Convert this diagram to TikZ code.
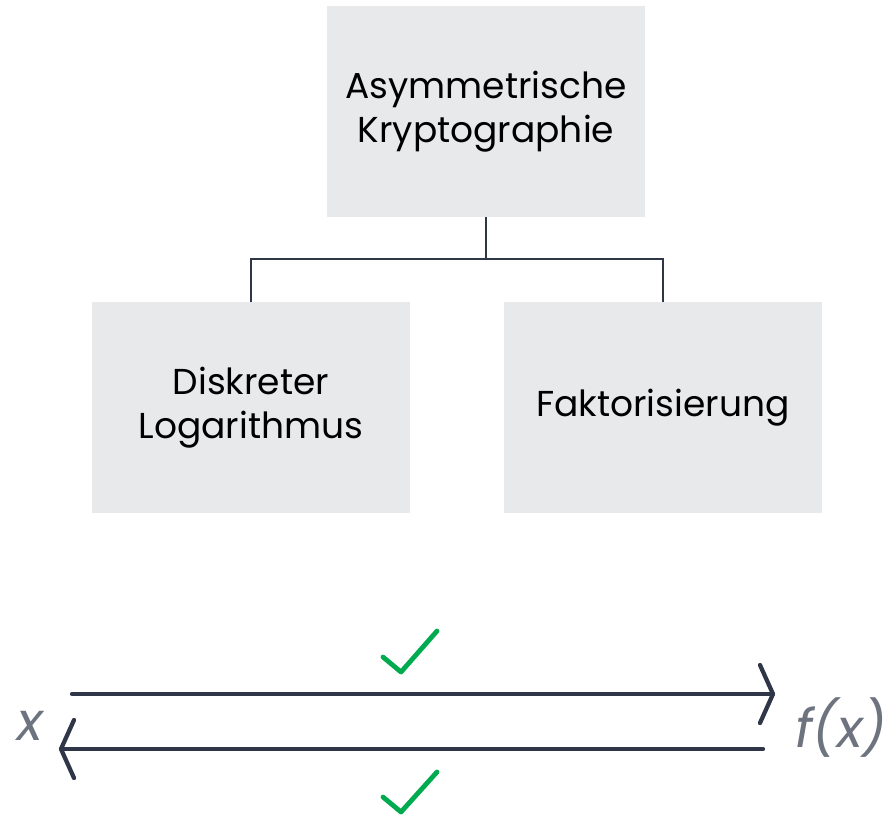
\documentclass[tikz,border=0pt]{standalone}
\usepackage{fontspec}
\setmainfont{Poppins}
\usetikzlibrary{calc}
\begin{document}
\begin{tikzpicture}[x=0.75pt,y=-0.75pt,
  box/.style={fill=boxgray,draw=none,minimum width=318*0.75pt,minimum height=211*0.75pt,
    align=center,font=\fontsize{27}{33}\selectfont,text=black,inner sep=0pt},
  link/.style={draw=navy,line width=1.9pt},
  flow/.style={draw=navy,line width=3.2pt,line cap=round,line join=round},
  tick/.style={draw=okgreen,line width=3.6pt,line cap=round,line join=round},
  var/.style={text=labelgray,font=\fontsize{40}{44}\selectfont\itshape,inner sep=0pt}]
\definecolor{boxgray}{HTML}{E8E9EB}
\definecolor{navy}{HTML}{2E3648}
\definecolor{okgreen}{HTML}{00AA4F}
\definecolor{labelgray}{HTML}{6E7380}
\useasboundingbox (0,0) rectangle (889,818);

% hierarchy boxes
\node[box] (root) at (486,111.5) {Asymmetrische\\Kryptographie};
\node[box] (dlog) at (251,407.5) {Diskreter\\Logarithmus};
\node[box] (fact) at (663,407.5) {Faktorisierung};

% tree connectors
\coordinate (fork) at (486,259);
\draw[link] (root.south) -- (fork);
\draw[link] (fork) -| (dlog.north);
\draw[link] (fork) -| (fact.north);

% one-way function: forward and backward arrows
\node[var,anchor=center] (x) at (30,726) {x};
\node[var,anchor=center] (fx) at (841,728) {f(x)};

\coordinate (fs) at (72,694);
\coordinate (fe) at (773,694);
\coordinate (bs) at (763,749);
\coordinate (be) at (61,749);
\draw[flow] (fs) -- (fe);
\draw[flow] ($(fe)+(-13,-29)$) -- (fe) -- ($(fe)+(-13,29)$);
\draw[flow] (bs) -- (be);
\draw[flow] ($(be)+(13,-29)$) -- (be) -- ($(be)+(13,29)$);

% check marks
\draw[tick] (383,657) -- (401,672) -- (437,631);
\draw[tick] (383,797) -- (401,812) -- (437,772);
\end{tikzpicture}
\end{document}
